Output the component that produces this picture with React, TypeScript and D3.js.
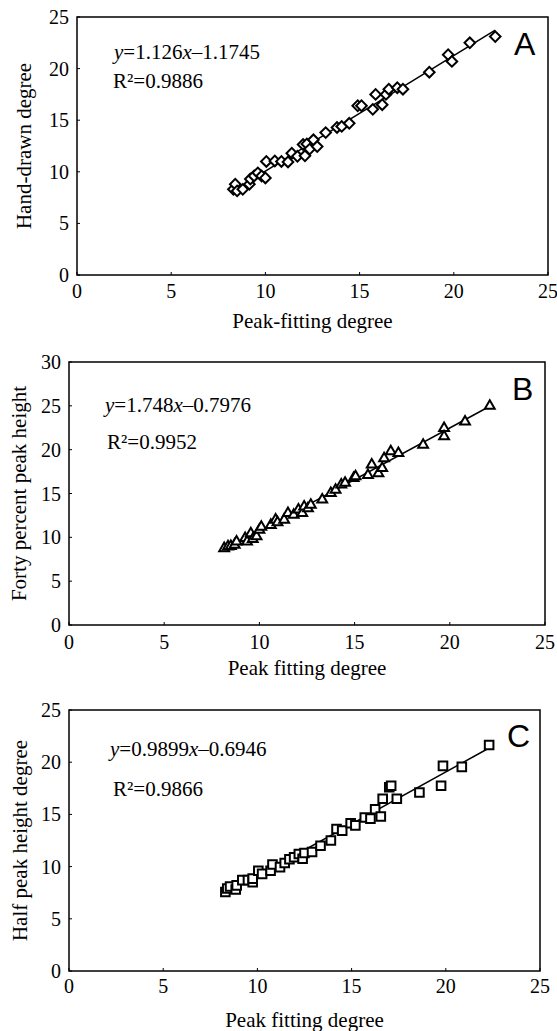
import React from "react";
import * as d3 from "d3";

// ---------- data ----------
const A_X = [8.3, 8.4, 8.5, 8.8, 9.15, 9.2, 9.4, 9.6, 9.8, 10.0, 10.05, 10.5, 10.85, 11.2, 11.4, 11.7, 12.0, 12.1, 12.2, 12.35, 12.55, 12.75, 13.2, 13.8, 14.05, 14.45, 14.9, 15.1, 15.7, 15.85, 16.2, 16.4, 16.55, 17.0, 17.3, 18.7, 19.7, 19.9, 20.85, 22.2];
const A_Y = [8.3, 8.8, 8.15, 8.3, 8.8, 9.3, 9.6, 9.9, 9.6, 9.4, 11.0, 11.05, 11.0, 10.95, 11.8, 11.5, 12.65, 11.55, 12.7, 12.2, 13.1, 12.45, 13.8, 14.3, 14.4, 14.7, 16.4, 16.4, 16.05, 17.5, 16.5, 17.5, 18.0, 18.15, 18.0, 19.65, 21.35, 20.7, 22.5, 23.1];

const B_X = [8.15, 8.35, 8.5, 8.7, 8.8, 9.25, 9.35, 9.55, 9.65, 9.85, 10.0, 10.1, 10.6, 10.85, 10.95, 11.3, 11.5, 11.8, 12.05, 12.25, 12.35, 12.55, 12.7, 13.3, 13.75, 14.0, 14.3, 14.5, 14.95, 15.05, 15.7, 15.9, 16.25, 16.45, 16.55, 16.9, 17.3, 18.6, 19.7, 19.7, 20.8, 22.1];
const B_Y = [8.75, 8.95, 9.0, 9.15, 9.5, 9.9, 9.5, 10.45, 9.8, 10.1, 10.85, 11.2, 11.4, 12.0, 11.7, 12.0, 12.75, 12.55, 13.15, 12.75, 13.5, 13.3, 13.7, 14.3, 15.05, 15.4, 16.0, 16.2, 16.75, 16.95, 17.1, 18.3, 17.3, 17.9, 19.0, 19.8, 19.6, 20.55, 22.45, 21.5, 23.2, 25.0];

const C_X = [8.3, 8.4, 8.55, 8.85, 8.9, 9.2, 9.5, 9.75, 9.75, 10.05, 10.25, 10.7, 10.8, 11.2, 11.45, 11.7, 11.95, 12.2, 12.4, 12.5, 12.9, 13.35, 13.9, 14.2, 14.5, 14.95, 15.2, 15.7, 16.0, 16.25, 16.55, 16.65, 17.0, 17.1, 17.4, 18.6, 19.75, 19.85, 20.85, 22.3];
const C_Y = [7.57, 7.9, 8.1, 7.8, 8.2, 8.7, 8.7, 8.5, 8.85, 9.6, 9.3, 9.6, 10.2, 9.95, 10.35, 10.7, 10.9, 11.2, 10.75, 11.3, 11.4, 12.0, 12.5, 13.6, 13.45, 14.15, 13.95, 14.7, 14.6, 15.5, 14.8, 16.5, 17.6, 17.75, 16.5, 17.1, 17.75, 19.65, 19.55, 21.65];

const X_TICKS = [0, 5, 10, 15, 20, 25];
const A_Y_TICKS = [0, 5, 10, 15, 20, 25];
const B_Y_TICKS = [0, 5, 10, 15, 20, 25, 30];
const C_Y_TICKS = [0, 5, 10, 15, 20, 25];

const PANELS = [
  {
    key: "A", xs: A_X, ys: A_Y, yMax: 25, yTicks: A_Y_TICKS, marker: "diamond",
    left: 77, right: 548, top: 17, bottom: 275,
    yLabel: "Hand-drawn degree", yLabelX: 31,
    xLabel: "Peak-fitting degree", xTickBase: 298, xLabelBase: 328,
    eqA: "1.126", eqB: "1.1745", r2: "0.9886",
    eqX: 114, eqBase: 59, r2X: 113, r2Base: 88,
    letterX: 514, letterBase: 55,
  },
  {
    key: "B", xs: B_X, ys: B_Y, yMax: 30, yTicks: B_Y_TICKS, marker: "triangle",
    left: 69, right: 545, top: 362, bottom: 625,
    yLabel: "Forty percent peak height", yLabelX: 26,
    xLabel: "Peak fitting degree", xTickBase: 649, xLabelBase: 675,
    eqA: "1.748", eqB: "0.7976", r2: "0.9952",
    eqX: 105, eqBase: 412, r2X: 107, r2Base: 449,
    letterX: 512, letterBase: 400,
  },
  {
    key: "C", xs: C_X, ys: C_Y, yMax: 25, yTicks: C_Y_TICKS, marker: "square",
    left: 69, right: 540, top: 710, bottom: 971,
    yLabel: "Half peak height degree", yLabelX: 27,
    xLabel: "Peak fitting degree", xTickBase: 993, xLabelBase: 1027,
    eqA: "0.9899", eqB: "0.6946", r2: "0.9866",
    eqX: 110, eqBase: 756, r2X: 113, r2Base: 796,
    letterX: 507, letterBase: 747,
  },
];

const SERIF = "'Liberation Serif', 'Times New Roman', serif";
const SANS = "'Liberation Sans', Arial, sans-serif";

function fit(xs: number[], ys: number[]) {
  const mx = d3.mean(xs) as number;
  const my = d3.mean(ys) as number;
  let sxy = 0, sxx = 0;
  xs.forEach((x, i) => { sxy += (x - mx) * (ys[i] - my); sxx += (x - mx) * (x - mx); });
  const slope = sxy / sxx;
  return { slope, intercept: my - slope * mx };
}

function Panel({ p }: { p: any }) {
  const x = d3.scaleLinear().domain([0, 25]).range([p.left, p.right]);
  const y = d3.scaleLinear().domain([0, p.yMax]).range([p.bottom, p.top]);
  const { slope, intercept } = fit(p.xs, p.ys);
  const [x0, x1] = d3.extent(p.xs) as [number, number];
  const line = d3.line<number>().x((v) => x(v)).y((v) => y(slope * v + intercept));
  const sym =
    p.marker === "diamond"
      ? d3.symbol(d3.symbolSquare, 56)()
      : p.marker === "triangle"
      ? d3.symbol(d3.symbolTriangle, 42)()
      : d3.symbol(d3.symbolSquare, 74)();
  const rot = p.marker === "diamond" ? " rotate(45)" : "";
  const cx = (p.left + p.right) / 2;
  const cy = (p.top + p.bottom) / 2;
  return (
    <g>
      <rect x={p.left} y={p.top} width={p.right - p.left} height={p.bottom - p.top}
        fill="none" stroke="#000" strokeWidth={1.5} />
      {X_TICKS.map((t) => (
        <g key={"xt" + t}>
          <line x1={x(t)} x2={x(t)} y1={p.bottom} y2={p.bottom - 3} stroke="#000" strokeWidth={1} />
          <text x={x(t)} y={p.xTickBase} textAnchor="middle" fontFamily={SERIF} fontSize={20}>{t}</text>
        </g>
      ))}
      {p.yTicks.map((t: number) => (
        <g key={"yt" + t}>
          <line x1={p.left} x2={p.left + 3} y1={y(t)} y2={y(t)} stroke="#000" strokeWidth={1} />
          <text x={p.left - 8} y={y(t) + 7} textAnchor="end" fontFamily={SERIF} fontSize={20}>{t}</text>
        </g>
      ))}
      <path d={line([x0, x1]) || ""} fill="none" stroke="#000" strokeWidth={1.5} />
      {p.xs.map((v: number, i: number) => (
        <path key={i} d={sym || ""} transform={`translate(${x(v)},${y(p.ys[i])})${rot}`}
          fill="#fff" stroke="#000" strokeWidth={2} />
      ))}
      <text x={p.eqX} y={p.eqBase} fontFamily={SERIF} fontSize={21}>
        <tspan fontStyle="italic">y</tspan>
        <tspan>={p.eqA}</tspan>
        <tspan fontStyle="italic">x</tspan>
        <tspan>–{p.eqB}</tspan>
      </text>
      <text x={p.r2X} y={p.r2Base} fontFamily={SERIF} fontSize={21}>R²={p.r2}</text>
      <text x={p.letterX} y={p.letterBase} fontFamily={SANS} fontSize={32}>{p.key}</text>
      <text transform={`translate(${p.yLabelX},${cy}) rotate(-90)`} textAnchor="middle"
        fontFamily={SERIF} fontSize={21}>{p.yLabel}</text>
      <text x={cx} y={p.xLabelBase} textAnchor="middle" fontFamily={SERIF} fontSize={21}>{p.xLabel}</text>
    </g>
  );
}

export default function App() {
  return (
    <svg width={557} height={1031} style={{ position: "absolute", left: 0, top: 0, background: "#fff" }}>
      <rect x={0} y={0} width={557} height={1031} fill="#fff" />
      {PANELS.map((p) => <Panel key={p.key} p={p} />)}
    </svg>
  );
}
